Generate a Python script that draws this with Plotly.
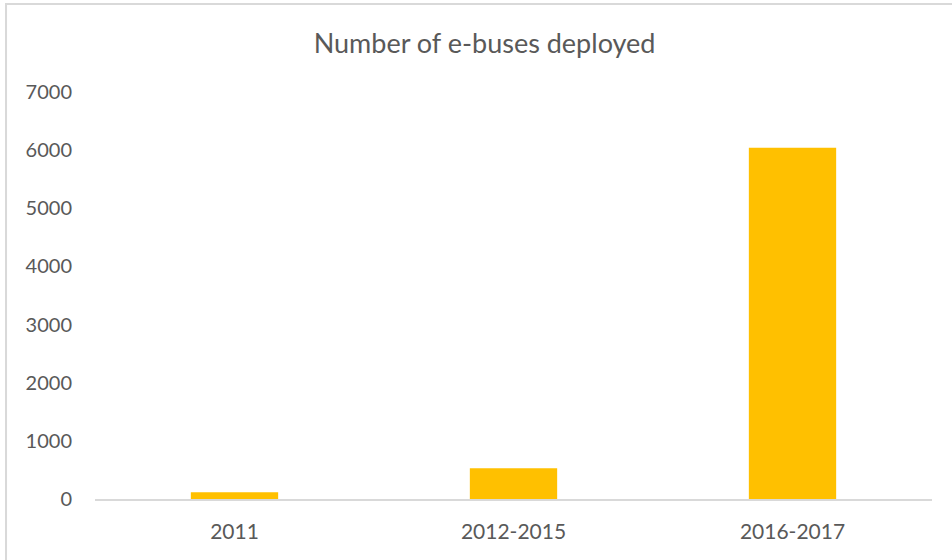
import plotly.graph_objects as go

# Data
PERIODS = ['2011', '2012-2015', '2016-2017']
EBUSES = [115, 528, 6040]
Y_TICKS = [0, 1000, 2000, 3000, 4000, 5000, 6000, 7000]

BAR_COLOR = '#FFC000'
TEXT_COLOR = '#595959'
LINE_COLOR = '#D9D9D9'
FONT = 'Lato, "Open Sans", Arial, sans-serif'

fig = go.Figure(
    go.Bar(
        x=PERIODS,
        y=EBUSES,
        marker=dict(color=BAR_COLOR, line=dict(width=0)),
        hovertemplate="%{x}: %{y}<extra></extra>",
    )
)

fig.update_layout(
    title=dict(
        text='Number of e-buses deployed',
        x=0.509, xanchor='center', xref='container',
        y=0.922, yanchor='middle', yref='container',
        font=dict(size=27, color=TEXT_COLOR, family=FONT),
    ),
    width=952,
    height=560,
    margin=dict(l=95, r=20, t=92, b=61),
    paper_bgcolor='white',
    plot_bgcolor='white',
    bargap=0.687,
    showlegend=False,
    font=dict(family=FONT, color=TEXT_COLOR, size=20),
    xaxis=dict(
        showgrid=False,
        showline=True,
        linecolor=LINE_COLOR,
        linewidth=2,
        ticks='',
        tickfont=dict(size=21, color=TEXT_COLOR),
        ticklabelstandoff=13,
    ),
    yaxis=dict(
        range=[0, 7000],
        tickvals=Y_TICKS,
        showgrid=False,
        zeroline=False,
        showline=False,
        ticks='',
        tickfont=dict(size=20, color=TEXT_COLOR),
        ticklabelstandoff=22,
    ),
    shapes=[
        # chart-area border (right/bottom edges fall outside the picture)
        dict(type='rect', xref='paper', yref='paper',
             x0=-0.1063, x1=1.04, y0=-0.18, y1=1.2162,
             line=dict(color=LINE_COLOR, width=2), fillcolor='rgba(0,0,0,0)',
             layer='below'),
    ],
)

# drop the browser's default 8px body margin so the figure sits at (0, 0)
fig.write_html(
    "out.html",
    config={'displayModeBar': False},
    post_script="document.body.style.margin='0';document.body.style.overflow='hidden';",
)
